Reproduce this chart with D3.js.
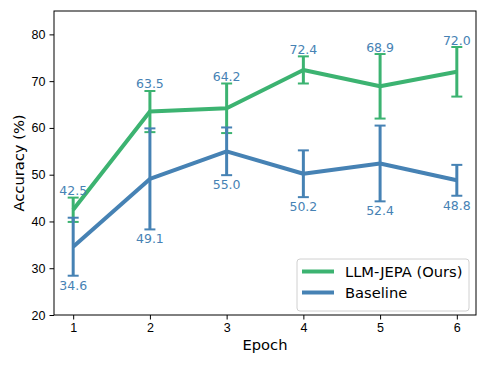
<!DOCTYPE html>
<html>
<head>
<meta charset="utf-8">
<script src="https://cdn.jsdelivr.net/npm/d3@7"></script>
<style>
  body { margin: 0; background: #fff; }
  svg { display: block; font-family: "DejaVu Sans", sans-serif; }
  .axis path, .axis line { stroke: #000; stroke-width: 1; }
  .axis text { font-size: 12.5px; fill: #000; }
</style>
</head>
<body>
<svg id="chart"></svg>
<script>
// data
var epochs = [1, 2, 3, 4, 5, 6]
var seriesNames = ["LLM-JEPA (Ours)", "Baseline"]
var jepaMean = [42.5, 63.5, 64.2, 72.4, 68.9, 72.0]
var jepaErr = [2.6, 4.4, 5.3, 2.9, 6.9, 5.3]
var baseMean = [34.6, 49.1, 55.0, 50.2, 52.4, 48.8]
var baseErr = [6.2, 10.8, 5.1, 5.0, 8.1, 3.3]
var yTicks = [20, 30, 40, 50, 60, 70, 80]

var screen = {width: 488, height: 366}
var margins = {top: 11, right: 12, bottom: 51, left: 54}
var colors = {jepa: "#3cb371", base: "#4682b4", label: "#4682b4"}

var svg = d3.select("#chart")
    .attr("width", screen.width)
    .attr("height", screen.height)

var width = screen.width - margins.left - margins.right
var height = screen.height - margins.top - margins.bottom

var xScale = d3.scaleLinear().domain([0.75, 6.25]).range([0, width])
var yScale = d3.scaleLinear().domain([20, 85]).range([height, 0])

var g = svg.append("g")
    .attr("transform", "translate(" + margins.left + "," + margins.top + ")")

// axes
g.append("g")
    .attr("class", "axis")
    .attr("transform", "translate(0," + height + ")")
    .call(d3.axisBottom(xScale).tickValues(epochs).tickFormat(d3.format("d")).tickSizeOuter(0).tickSize(4.5).tickPadding(4))

g.append("g")
    .attr("class", "axis")
    .call(d3.axisLeft(yScale).tickValues(yTicks).tickSizeOuter(0).tickSize(4.5).tickPadding(4))

g.selectAll(".axis .domain").remove()

g.append("rect")
    .attr("width", width).attr("height", height)
    .attr("fill", "none").attr("stroke", "#000").attr("stroke-width", 1)

// axis titles
svg.append("text")
    .attr("x", margins.left + width / 2).attr("y", 350)
    .attr("text-anchor", "middle")
    .attr("font-size", "14.7px")
    .text("Epoch")

svg.append("text")
    .attr("transform", "translate(24," + (margins.top + height / 2) + ") rotate(-90)")
    .attr("text-anchor", "middle")
    .attr("font-size", "14.7px")
    .text("Accuracy (%)")

var line = d3.line()
    .x(function(d) { return xScale(d.epoch) })
    .y(function(d) { return yScale(d.mean) })

var makeRows = function(means, errs)
{
    return epochs.map(function(e, i) { return {epoch: e, mean: means[i], err: errs[i]} })
}

var drawSeries = function(rows, color)
{
    var s = g.append("g")
    s.append("path")
        .datum(rows)
        .attr("d", line)
        .attr("fill", "none")
        .attr("stroke", color)
        .attr("stroke-width", 4)
        .attr("stroke-linejoin", "round")

    var bars = s.selectAll(".err").data(rows).enter().append("g")
    bars.append("line")
        .attr("x1", function(d) { return xScale(d.epoch) })
        .attr("x2", function(d) { return xScale(d.epoch) })
        .attr("y1", function(d) { return yScale(d.mean - d.err) })
        .attr("y2", function(d) { return yScale(d.mean + d.err) })
        .attr("stroke", color).attr("stroke-width", 3)
    ;["top", "bottom"].forEach(function(side)
    {
        bars.append("line")
            .attr("x1", function(d) { return xScale(d.epoch) - 5.5 })
            .attr("x2", function(d) { return xScale(d.epoch) + 5.5 })
            .attr("y1", function(d) { return yScale(side == "top" ? d.mean + d.err : d.mean - d.err) })
            .attr("y2", function(d) { return yScale(side == "top" ? d.mean + d.err : d.mean - d.err) })
            .attr("stroke", color).attr("stroke-width", 2)
    })
}

var jepaRows = makeRows(jepaMean, jepaErr)
var baseRows = makeRows(baseMean, baseErr)

drawSeries(jepaRows, colors.jepa)
drawSeries(baseRows, colors.base)

// value labels
g.selectAll(".lblTop").data(jepaRows).enter().append("text")
    .attr("x", function(d) { return xScale(d.epoch) })
    .attr("y", function(d) { return yScale(d.mean + d.err) - 2.5 })
    .attr("text-anchor", "middle")
    .attr("font-size", "12.5px")
    .attr("fill", colors.label)
    .text(function(d) { return d.mean.toFixed(1) })

g.selectAll(".lblBot").data(baseRows).enter().append("text")
    .attr("x", function(d) { return xScale(d.epoch) })
    .attr("y", function(d) { return yScale(d.mean - d.err) + 14 })
    .attr("text-anchor", "middle")
    .attr("font-size", "12.5px")
    .attr("fill", colors.label)
    .text(function(d) { return d.mean.toFixed(1) })

// legend
var legend = g.append("g")
    .attr("transform", "translate(" + (width - 179) + "," + (height - 56) + ")")

legend.append("rect")
    .attr("width", 172).attr("height", 52).attr("rx", 3)
    .attr("fill", "#fff").attr("fill-opacity", 0.8)
    .attr("stroke", "#d0d0d0").attr("stroke-width", 1)

var items = legend.selectAll(".item")
    .data([{name: seriesNames[0], color: colors.jepa}, {name: seriesNames[1], color: colors.base}])
    .enter().append("g")
    .attr("transform", function(d, i) { return "translate(0," + (12.5 + i * 21) + ")" })

items.append("line")
    .attr("x1", 5).attr("x2", 37)
    .attr("stroke", function(d) { return d.color })
    .attr("stroke-width", 4)

items.append("text")
    .attr("x", 48).attr("y", 5.3)
    .attr("font-size", "14.7px")
    .text(function(d) { return d.name })
</script>
</body>
</html>
